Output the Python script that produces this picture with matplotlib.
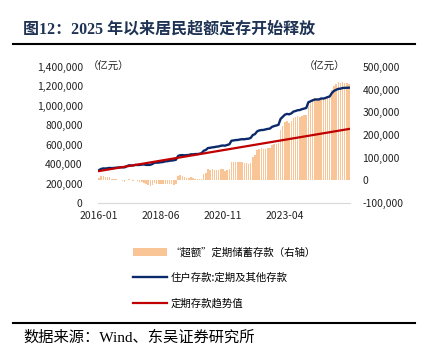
import numpy as np
import pandas as pd
import matplotlib
matplotlib.use("Agg")
import matplotlib.pyplot as plt
from matplotlib.lines import Line2D

plt.rcParams['font.family'] = ['Noto Sans CJK SC', 'DejaVu Sans']
plt.rcParams['axes.unicode_minus'] = False

# monthly, 2016-01 .. 2025-10
months = pd.date_range("2016-01-01", periods=118, freq="MS").strftime("%Y-%m").tolist()
tick_labels = ["2016-01", "2018-06", "2020-11", "2023-04"]

# 住户存款:定期及其他存款 (亿元, left axis)
time_dep = [
    339000, 351000, 356000, 355000, 358000, 361000, 359000, 361000, 364000, 365000, 368000, 367000,
    367000, 379000, 388000, 386000, 387000, 392000, 391000, 392000, 395000, 397000, 392000, 392000,
    393000, 402000, 415000, 415000, 416000, 420000, 422000, 429000, 430000, 435000, 437000, 440000,
    445000, 484000, 492000, 493000, 491000, 493000, 494000, 501000, 501000, 504000, 504000, 507000,
    513000, 538000, 546000, 566000, 568000, 573000, 575000, 580000, 582000, 589000, 592000, 590000,
    598000, 604000, 641000, 644000, 648000, 649000, 654000, 657000, 656000, 660000, 662000, 670000,
    700000, 709000, 737000, 747000, 751000, 752000, 758000, 763000, 766000, 784000, 792000, 798000,
    805000, 866000, 887000, 909000, 917000, 913000, 922000, 941000, 947000, 955000, 957000, 966000,
    972000, 978000, 1037000, 1047000, 1057000, 1065000, 1066000, 1066000, 1076000, 1075000, 1081000, 1090000,
    1097000, 1132000, 1154000, 1165000, 1175000, 1177000, 1184000, 1185000, 1186000, 1187000,
]

# 定期存款趋势值 (straight line, start and end)
trend_x = [0, 117]
trend_val = [329000, 762000]

# “超额”定期储蓄存款 (亿元, right axis)
excess = [
    10000, 18000, 20000, 15000, 14000, 13000, 8000, 6000, 5000, 3000, 2000, -3000,
    -6000, 2000, 7000, 1000, -1000, 0, -5000, -7000, -8000, -10000, -18000, -22000,
    -25000, -20000, -10000, -14000, -17000, -16000, -18000, -15000, -17000, -16000, -18000, -19000,
    -17000, 18000, 22000, 20000, 14000, 12000, 10000, 13000, 9000, 8000, 5000, 4000,
    6000, 28000, 32000, 48000, 47000, 48000, 46000, 47000, 46000, 49000, 48000, 43000,
    47000, 49000, 83000, 82000, 82000, 79000, 81000, 80000, 75000, 76000, 74000, 78000,
    105000, 110000, 134000, 140000, 141000, 138000, 140000, 142000, 141000, 155000, 160000, 162000,
    165000, 222000, 240000, 258000, 262000, 255000, 260000, 275000, 278000, 282000, 280000, 285000,
    288000, 290000, 345000, 352000, 358000, 362000, 360000, 356000, 362000, 358000, 360000, 365000,
    368000, 400000, 418000, 425000, 432000, 430000, 433000, 431000, 428000, 425000,
]

navy = '#0B2A6B'
red = '#C00000'
orange = '#F9C496'

fig = plt.figure(figsize=(4.25, 3.53), dpi=100)
ax = fig.add_axes([98 / 425, 1 - 203 / 353, 252 / 425, 136 / 353])
ax2 = ax.twinx()
ax.set_zorder(ax2.get_zorder() + 1)
ax.patch.set_visible(False)

x = np.arange(len(months))
bars = ax2.bar(x, excess, width=0.7, color=orange, linewidth=0)
l1, = ax.plot(x, time_dep, color=navy, lw=1.7)
l2, = ax.plot(trend_x, trend_val, color=red, lw=1.6)

ax.set_xlim(-0.5, len(months) - 0.5)
ax.set_ylim(0, 1400000)
ax2.set_ylim(-100000, 500000)
ax.set_yticks(np.arange(0, 1400001, 200000))
ax2.set_yticks(np.arange(-100000, 500001, 100000))
ax.yaxis.set_major_formatter(matplotlib.ticker.FuncFormatter(lambda v, p: f"{int(v):,}"))
ax2.yaxis.set_major_formatter(matplotlib.ticker.FuncFormatter(lambda v, p: f"{int(v):,}"))
ax.set_xticks([months.index(t) for t in tick_labels])
ax.set_xticklabels(tick_labels)

for a in (ax, ax2):
    for s in a.spines.values():
        s.set_visible(False)
    a.tick_params(length=0, labelsize=7.5, colors='#222222')
ax.spines['bottom'].set_visible(True)
ax.spines['bottom'].set_color('#D9D9D9')
ax.tick_params(axis='y', pad=11)
ax.tick_params(axis='x', pad=6)
ax2.tick_params(axis='y', pad=9)

ax.text(-0.04, 1.0, "（亿元）", transform=ax.transAxes, fontsize=7.5, ha='left', va='center', color='#222222')
ax.text(0.98, 1.0, "（亿元）", transform=ax.transAxes, fontsize=7.5, ha='right', va='center', color='#222222')

fig.legend([bars, l1, l2],
           ["“超额”定期储蓄存款（右轴）", "住户存款:定期及其他存款", "定期存款趋势值"],
           loc='upper left', bbox_to_anchor=(124 / 425, 1 - 238 / 353), frameon=False,
           fontsize=7.5, handlelength=3.2, labelspacing=1.45, handletextpad=0.4)

fig.text(23 / 425, 1 - 30 / 353, "图12：2025 年以来居民超额定存开始释放",
         family=['Liberation Serif', 'Noto Sans CJK SC'], weight='bold',
         fontsize=11.5, color='#1F3354', va='center', ha='left')
fig.add_artist(Line2D([13 / 425, 415 / 425], [1 - 44 / 353, 1 - 44 / 353], color='black', lw=1.5))
fig.add_artist(Line2D([13 / 425, 415 / 425], [1 - 323 / 353, 1 - 323 / 353], color='black', lw=1.5))
fig.text(23 / 425, 1 - 338 / 353, "数据来源：Wind、东吴证券研究所",
         family=['Liberation Serif', 'Noto Sans CJK SC'], fontsize=11, color='black',
         va='center', ha='left')

fig.savefig("out.png", dpi=100)
